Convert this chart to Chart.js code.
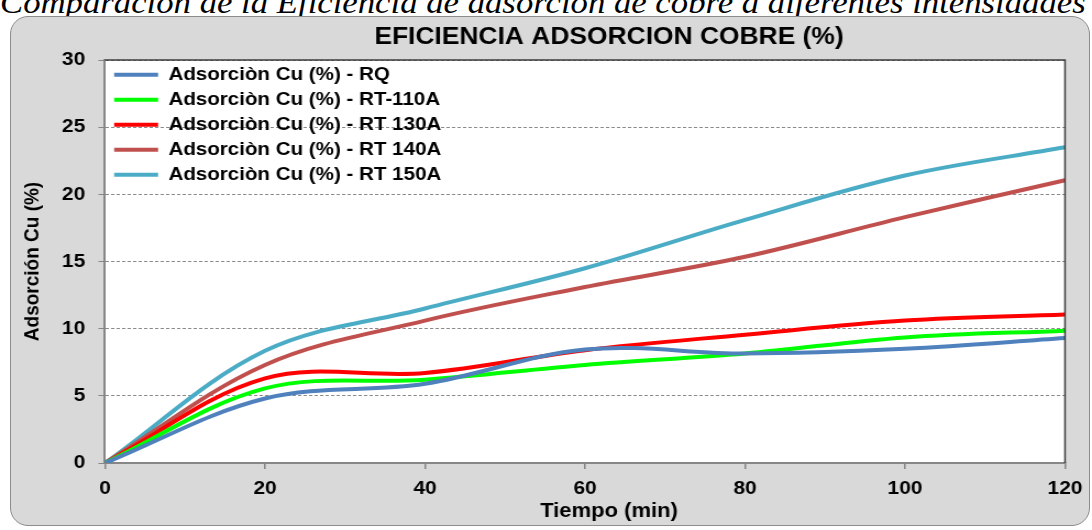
<!DOCTYPE html>
<html>
<head>
<meta charset="utf-8">
<script src="https://cdn.jsdelivr.net/npm/chart.js@4.4.0/dist/chart.umd.min.js"></script>
<style>
  html, body { margin: 0; padding: 0; background: #ffffff; }
  body { width: 1092px; height: 530px; overflow: hidden; position: relative; }
  #caption {
    position: absolute; left: 0px; top: -13px; white-space: nowrap;
    font-family: 'Liberation Serif', 'Times New Roman', serif; font-style: italic;
    font-size: 31px; line-height: 31px; color: #000;
    transform-origin: 0 0; transform: scaleX(1.12);
  }
  #box {
    position: absolute; left: 10px; top: 16px; width: 1080px; height: 510px;
    box-sizing: border-box; border: 1.5px solid #8c8c8c; border-radius: 18px;
    background: #d9d9d9;
  }
  #c { position: absolute; left: 0; top: 0; width: 1092px; height: 530px; }
</style>
</head>
<body>
<div id="caption">Comparación de la Eficiencia de adsorción de cobre a diferentes intensidades</div>
<div id="box"></div>
<canvas id="c" width="993" height="530" style="width:1092px;height:530px;"></canvas>
<script>
// ---- data ----
const chartTitle = 'EFICIENCIA ADSORCION COBRE (%)';
const xTitle = 'Tiempo (min)';
const yTitle = 'Adsorción Cu (%)';
const times = [0, 20, 40, 60, 80, 100, 120];
const seriesNames = [
  'Adsorciòn Cu (%) - RQ',
  'Adsorciòn Cu (%) - RT-110A',
  'Adsorciòn Cu (%) - RT 130A',
  'Adsorciòn Cu (%) - RT 140A',
  'Adsorciòn Cu (%) - RT 150A'
];
const rq     = [0, 4.8, 5.9, 8.45, 8.15, 8.5, 9.3];
const rt110a = [0, 5.55, 6.2, 7.3, 8.15, 9.35, 9.85];
const rt130a = [0, 6.3, 6.7, 8.4, 9.55, 10.6, 11.05];
const rt140a = [0, 7.3, 10.6, 13.1, 15.35, 18.3, 21.05];
const rt150a = [0, 8.35, 11.5, 14.5, 18.1, 21.4, 23.5];
const seriesValues = [rq, rt110a, rt130a, rt140a, rt150a];
const seriesColors = ['#4f81bd', '#00ff00', '#ff0000', '#c0504d', '#4bacc6'];
const xTicks = [0, 20, 40, 60, 80, 100, 120];
const yTicks = [0, 5, 10, 15, 20, 25, 30];

const SX = 993 / 1092; // canvas is stretched horizontally

Chart.defaults.font.family = "'Liberation Sans', Arial, sans-serif";
Chart.defaults.color = '#000';

const plotBg = {
  id: 'plotBg',
  afterLayout(chart) {
    const l = chart.legend;
    if (l) {
      const dy = chart.chartArea.top - 1;
      l.top += dy; l.bottom += dy;
      l.left += 2; l.right += 2;
    }
  },
  beforeDraw(chart) {
    const {ctx, chartArea: a} = chart;
    ctx.save();
    ctx.fillStyle = '#ffffff';
    ctx.fillRect(a.left, a.top, a.right - a.left, a.bottom - a.top);
    ctx.restore();
  },
  afterDraw(chart) {
    const {ctx, chartArea: a} = chart;
    ctx.save();
    ctx.strokeStyle = '#3c3c3c';
    ctx.lineWidth = 1.5;
    ctx.beginPath();
    ctx.moveTo(a.left, a.top);
    ctx.lineTo(a.right, a.top);
    ctx.lineTo(a.right, a.bottom);
    ctx.stroke();
    ctx.fillStyle = '#000';
    ctx.textAlign = 'center';
    ctx.textBaseline = 'middle';
    ctx.font = "bold 24px 'Liberation Sans', Arial, sans-serif";
    ctx.fillText(chartTitle, 609 * SX, 37);
    ctx.font = "bold 20px 'Liberation Sans', Arial, sans-serif";
    ctx.fillText(xTitle, 609 * SX, 511);
    ctx.restore();
  }
};

const datasets = seriesNames.map((name, i) => ({
  label: name,
  data: times.map((t, j) => ({x: t, y: seriesValues[i][j]})),
  borderColor: seriesColors[i],
  backgroundColor: seriesColors[i],
  borderWidth: 4,
  pointRadius: 0,
  pointHoverRadius: 0,
  fill: false,
  tension: 0.35
}));

new Chart(document.getElementById('c'), {
  type: 'line',
  data: { datasets },
  plugins: [plotBg],
  options: {
    responsive: false,
    animation: false,
    devicePixelRatio: 1,
    layout: { padding: { top: 60, right: 993 - 1065 * SX, left: 0, bottom: 0 } },
    plugins: {
      title: { display: false },
      tooltip: { enabled: false },
      legend: {
        position: 'chartArea',
        align: 'start',
        labels: {
          usePointStyle: true,
          pointStyle: 'line',
          pointStyleWidth: 40,
          padding: 6.3,
          color: '#000',
          font: { size: 18.7, weight: 'bold' }
        }
      }
    },
    scales: {
      x: {
        type: 'linear',
        min: 0, max: 120,
        afterFit(s) { s.height = 67; },
        afterBuildTicks(s) { s.ticks = xTicks.map(v => ({value: v})); },
        ticks: { font: { size: 19, weight: 'bold' }, color: '#000', padding: 8, maxRotation: 0 },
        grid: { drawOnChartArea: false, drawTicks: true, tickLength: 6, tickColor: '#868686', lineWidth: 1.5 },
        border: { display: true, color: '#868686', width: 2 },
        title: { display: false }
      },
      y: {
        type: 'linear',
        min: 0, max: 30,
        afterFit(s) { s.width = 105 * SX; },
        afterBuildTicks(s) { s.ticks = yTicks.map(v => ({value: v})); },
        ticks: { font: { size: 19, weight: 'bold' }, color: '#000', padding: 12 },
        grid: { color: '#8a8a8a', lineWidth: 1, drawTicks: true, tickLength: 6, tickColor: '#868686', tickBorderDash: [] },
        border: { display: true, color: '#868686', width: 2, dash: [3, 2] },
        title: {
          display: true, text: yTitle, color: '#000',
          font: { size: 19, weight: 'bold' },
          padding: { top: 18, bottom: 0 }
        }
      }
    }
  }
});
</script>
</body>
</html>
